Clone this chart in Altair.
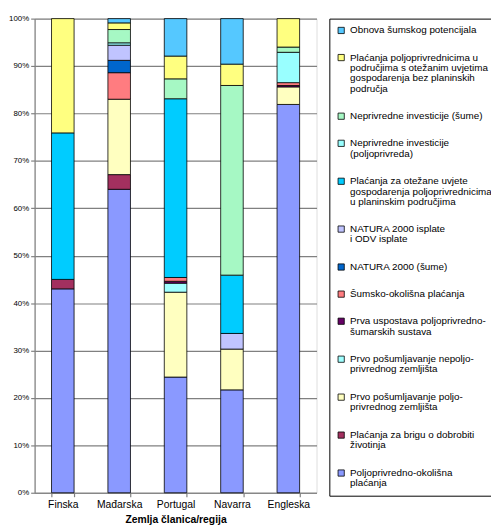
import altair as alt
import pandas as pd

countries = ["Finska", "Mađarska", "Portugal", "Navarra", "Engleska"]

# series in stacking order (bottom -> top); '|' marks a line break in the legend
series = [
    "Poljoprivredno-okolišna|plaćanja",
    "Plaćanja za brigu o dobrobiti|životinja",
    "Prvo pošumljavanje poljo-|privrednog zemljišta",
    "Prvo pošumljavanje nepoljo-|privrednog zemljišta",
    "Prva uspostava poljoprivredno-|šumarskih sustava",
    "Šumsko-okolišna plaćanja",
    "NATURA 2000 (šume)",
    "NATURA 2000 isplate|i ODV isplate",
    "Plaćanja za otežane uvjete|gospodarenja poljoprivrednicima|u planinskim područjima",
    "Neprivredne investicije|(poljoprivreda)",
    "Neprivredne investicije (šume)",
    "Plaćanja poljoprivrednicima u|područjima s otežanim uvjetima|gospodarenja bez planinskih|područja",
    "Obnova šumskog potencijala",
]
colors = [
    "#8A99FF", "#A3305F", "#FFFFC0", "#A0FFFF", "#660066", "#FF7C80",
    "#0066CC", "#C0C4FF", "#00CCFF", "#99FFFF", "#A6F8C4", "#FFFF80", "#55C8FF",
]

finska   = [43.0, 2.0, 0, 0, 0, 0, 0, 0, 30.9, 0, 0, 24.1, 0]
madarska = [64.0, 3.1, 15.9, 0, 0, 5.6, 2.6, 3.2, 0, 0.5, 2.8, 1.4, 0.9]
portugal = [24.4, 0, 17.9, 1.9, 0.4, 0.8, 0, 0, 37.7, 0, 4.2, 4.8, 7.9]
navarra  = [21.7, 0, 8.6, 0, 0, 0, 0, 3.3, 12.3, 0, 40.0, 4.5, 9.6]
engleska = [81.9, 0, 3.7, 0, 0.3, 0.6, 0, 0, 0, 6.4, 1.1, 6.0, 0]

table = [finska, madarska, portugal, navarra, engleska]
rows = []
for c, vals in zip(countries, table):
    for i, (s, v) in enumerate(zip(series, vals)):
        if v > 0:
            rows.append({"zemlja": c, "mjera": s, "udio": v, "red": i})
df = pd.DataFrame(rows)

legend_domain = series[::-1]
legend_colors = colors[::-1]

chart = alt.Chart(df).mark_bar(stroke="black", strokeWidth=0.8).encode(
    x=alt.X("zemlja:N", sort=countries,
            scale=alt.Scale(paddingInner=0.6, paddingOuter=0.3),
            axis=alt.Axis(title="Zemlja članica/regija", labelAngle=0, tickBand="extent",
                          domainColor="#808080", domainWidth=1.2, tickColor="#808080",
                          tickWidth=1.2, tickSize=4, labelPadding=3,
                          labelFont="Liberation Sans", labelFontSize=10.5, labelColor="black",
                          titleFont="Liberation Sans", titleFontSize=10.5,
                          titleFontWeight="bold", titlePadding=5, titleColor="black")),
    y=alt.Y("udio:Q", stack="zero",
            scale=alt.Scale(domain=[0, 100], nice=False),
            axis=alt.Axis(title=None, values=list(range(0, 101, 10)),
                          labelExpr="datum.value + '%'", grid=True, gridColor="#808080",
                          gridWidth=1.2, domainColor="#808080", domainWidth=1.2,
                          tickColor="#808080", tickWidth=1.2, tickSize=4, labelPadding=2,
                          labelFont="Liberation Sans", labelFontSize=8, labelColor="black")),
    color=alt.Color("mjera:N",
                    scale=alt.Scale(domain=legend_domain, range=legend_colors),
                    legend=alt.Legend(orient="none", legendX=299, legendY=0, title=None,
                                      symbolType="square", symbolSize=40,
                                      symbolStrokeColor="black", symbolStrokeWidth=0.8,
                                      labelFont="Liberation Sans", labelFontSize=10,
                                      labelColor="black", labelLimit=300,
                                      labelExpr="split(datum.label, '|')",
                                      rowPadding=17.5, padding=7, strokeColor="black",
                                      labelOffset=4)),
    order=alt.Order("red:Q", sort="ascending"),
).properties(
    width=286, height=481,
    autosize=alt.AutoSizeParams(type="none"),
    padding={"left": 27, "top": 7, "right": 177, "bottom": 33},
).configure_view(stroke=None).configure(
    style={"guide-label": {"lineHeight": 10.5}}
)

chart.save("out.html", embed_options={"renderer": "svg", "actions": False})
